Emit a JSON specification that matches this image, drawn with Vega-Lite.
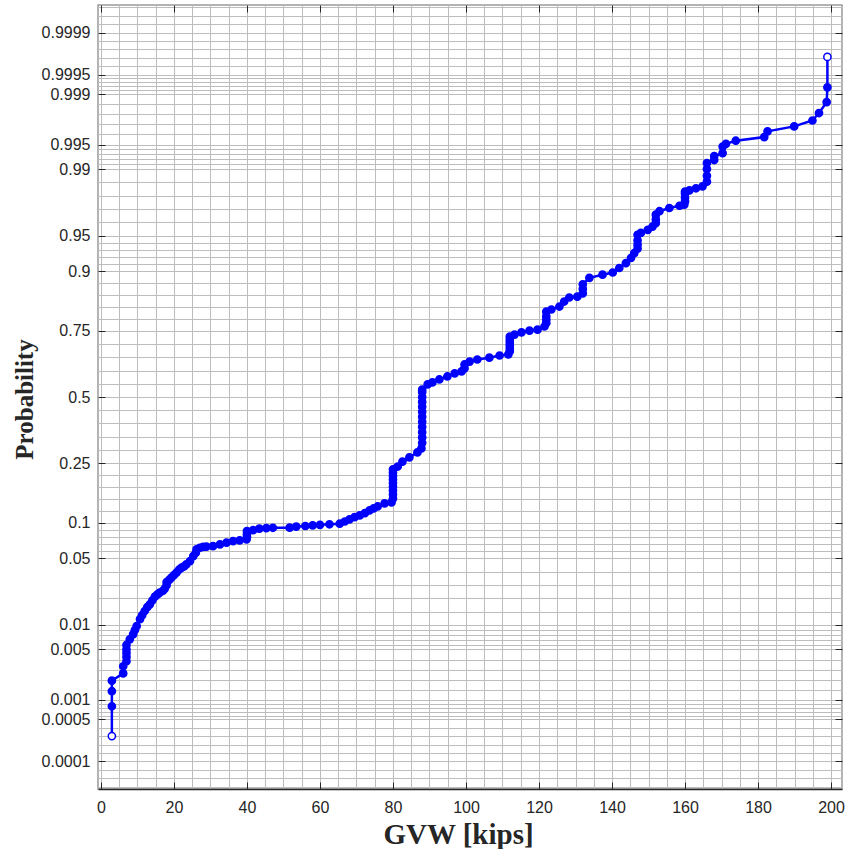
{
  "$schema": "https://vega.github.io/schema/vega-lite/v6.json",
  "width": 744,
  "height": 784,
  "autosize": {"type": "none"},
  "padding": {"left": 98, "top": 5, "right": 4, "bottom": 60},
  "background": "white",
  "config": {
    "view": {"stroke": "#9a9a9a", "strokeWidth": 1.5},
    "axis": {"labelFont": "Liberation Sans", "labelFontSize": 16, "labelColor": "#262626", "titleFont": "Liberation Serif", "titleFontSize": 25, "titleFontWeight": "bold", "titleColor": "#262626", "tickColor": "#262626", "tickWidth": 1}
  },
  "data": {"values": [
    {"w": 3, "p": 0.00027}, {"w": 3, "p": 0.0008}, {"w": 3, "p": 0.00134}, {"w": 3, "p": 0.0019},
    {"w": 6.1, "p": 0.0024}, {"w": 6.1, "p": 0.003}, {"w": 7, "p": 0.0035}, {"w": 7, "p": 0.004}, {"w": 7, "p": 0.0045}, {"w": 7, "p": 0.005}, {"w": 7, "p": 0.0057},
    {"w": 7.9, "p": 0.0067}, {"w": 8.8, "p": 0.0077}, {"w": 9.3, "p": 0.0087}, {"w": 9.8, "p": 0.0097}, {"w": 10.7, "p": 0.0117}, {"w": 11.3, "p": 0.013},
    {"w": 12, "p": 0.0145}, {"w": 12.7, "p": 0.016}, {"w": 13.4, "p": 0.0172}, {"w": 14.1, "p": 0.019}, {"w": 14.8, "p": 0.0208}, {"w": 15.5, "p": 0.022},
    {"w": 16.1, "p": 0.023}, {"w": 17, "p": 0.024}, {"w": 17.5, "p": 0.0253}, {"w": 18, "p": 0.0275}, {"w": 18, "p": 0.0295}, {"w": 18.7, "p": 0.031},
    {"w": 19.3, "p": 0.0327}, {"w": 20, "p": 0.0345}, {"w": 20.7, "p": 0.0366}, {"w": 21.4, "p": 0.039}, {"w": 22.1, "p": 0.0408}, {"w": 22.8, "p": 0.042},
    {"w": 23.4, "p": 0.0438}, {"w": 24.4, "p": 0.047}, {"w": 25.3, "p": 0.0523}, {"w": 26, "p": 0.056}, {"w": 26.2, "p": 0.06}, {"w": 27.1, "p": 0.062},
    {"w": 28, "p": 0.063}, {"w": 28.9, "p": 0.0634}, {"w": 30.7, "p": 0.064}, {"w": 32.6, "p": 0.0663}, {"w": 34.4, "p": 0.0686}, {"w": 36.2, "p": 0.0708},
    {"w": 38, "p": 0.0718}, {"w": 39.9, "p": 0.0732}, {"w": 40, "p": 0.077}, {"w": 40, "p": 0.081}, {"w": 40, "p": 0.0856}, {"w": 41.7, "p": 0.0872},
    {"w": 43.4, "p": 0.0895}, {"w": 45.3, "p": 0.0905}, {"w": 47.1, "p": 0.091}, {"w": 51.7, "p": 0.0912}, {"w": 53.5, "p": 0.093}, {"w": 56, "p": 0.094},
    {"w": 58, "p": 0.095}, {"w": 60, "p": 0.096}, {"w": 62.6, "p": 0.097}, {"w": 65.4, "p": 0.098}, {"w": 66.8, "p": 0.102}, {"w": 68.1, "p": 0.106},
    {"w": 69.5, "p": 0.11}, {"w": 70.9, "p": 0.1135}, {"w": 72.3, "p": 0.118}, {"w": 73.6, "p": 0.1237}, {"w": 74.7, "p": 0.128}, {"w": 75.8, "p": 0.132},
    {"w": 77.7, "p": 0.1388}, {"w": 79.6, "p": 0.141},
    {"w": 80, "p": 0.15}, {"w": 80, "p": 0.16}, {"w": 80, "p": 0.17}, {"w": 80, "p": 0.18}, {"w": 80, "p": 0.19}, {"w": 80, "p": 0.2}, {"w": 80, "p": 0.21}, {"w": 80, "p": 0.22}, {"w": 80, "p": 0.23},
    {"w": 81.3, "p": 0.239}, {"w": 82.6, "p": 0.255}, {"w": 84.5, "p": 0.269}, {"w": 86.7, "p": 0.286}, {"w": 87.8, "p": 0.3},
    {"w": 88, "p": 0.32}, {"w": 88, "p": 0.34}, {"w": 88, "p": 0.36}, {"w": 88, "p": 0.38}, {"w": 88, "p": 0.4}, {"w": 88, "p": 0.42}, {"w": 88, "p": 0.44},
    {"w": 88, "p": 0.46}, {"w": 88, "p": 0.48}, {"w": 88, "p": 0.5}, {"w": 88, "p": 0.52}, {"w": 88, "p": 0.53},
    {"w": 89.5, "p": 0.551}, {"w": 90.8, "p": 0.559}, {"w": 92.7, "p": 0.571}, {"w": 94.9, "p": 0.583}, {"w": 96.9, "p": 0.595}, {"w": 98.8, "p": 0.603},
    {"w": 99.6, "p": 0.615}, {"w": 99.6, "p": 0.63}, {"w": 101, "p": 0.641}, {"w": 103.1, "p": 0.649}, {"w": 106.4, "p": 0.656}, {"w": 109.2, "p": 0.664},
    {"w": 111.6, "p": 0.668}, {"w": 112, "p": 0.68}, {"w": 112, "p": 0.69}, {"w": 112, "p": 0.7}, {"w": 112, "p": 0.71}, {"w": 112, "p": 0.72}, {"w": 112, "p": 0.731},
    {"w": 113.3, "p": 0.738}, {"w": 115.2, "p": 0.745}, {"w": 117.4, "p": 0.751}, {"w": 119.6, "p": 0.754}, {"w": 121.5, "p": 0.764},
    {"w": 122, "p": 0.775}, {"w": 122, "p": 0.785}, {"w": 122, "p": 0.795}, {"w": 122, "p": 0.808}, {"w": 123.4, "p": 0.814}, {"w": 125.6, "p": 0.822},
    {"w": 126.9, "p": 0.835}, {"w": 128.3, "p": 0.845}, {"w": 130.5, "p": 0.847}, {"w": 132, "p": 0.855}, {"w": 132, "p": 0.865}, {"w": 132, "p": 0.875},
    {"w": 133.8, "p": 0.888}, {"w": 137.4, "p": 0.894}, {"w": 140.2, "p": 0.898}, {"w": 142, "p": 0.906}, {"w": 143.8, "p": 0.914}, {"w": 145.2, "p": 0.922},
    {"w": 146.1, "p": 0.929}, {"w": 147, "p": 0.935}, {"w": 147, "p": 0.94}, {"w": 147, "p": 0.945}, {"w": 147, "p": 0.951}, {"w": 147.9, "p": 0.953},
    {"w": 149.8, "p": 0.956}, {"w": 151.1, "p": 0.959}, {"w": 152, "p": 0.962}, {"w": 152, "p": 0.965}, {"w": 152, "p": 0.9686}, {"w": 153, "p": 0.971},
    {"w": 155.7, "p": 0.9731}, {"w": 158.5, "p": 0.9745}, {"w": 159.8, "p": 0.9751}, {"w": 160, "p": 0.977}, {"w": 160, "p": 0.979}, {"w": 160, "p": 0.981},
    {"w": 160, "p": 0.982}, {"w": 161.2, "p": 0.9825}, {"w": 163, "p": 0.9834}, {"w": 164.8, "p": 0.9842}, {"w": 166, "p": 0.986}, {"w": 166, "p": 0.988},
    {"w": 166, "p": 0.99}, {"w": 166, "p": 0.9915}, {"w": 168, "p": 0.9922}, {"w": 168, "p": 0.993}, {"w": 170.3, "p": 0.9936}, {"w": 170.3, "p": 0.9947},
    {"w": 171.2, "p": 0.9951}, {"w": 173.9, "p": 0.99554}, {"w": 181.7, "p": 0.996}, {"w": 182.6, "p": 0.99664}, {"w": 189.9, "p": 0.99712},
    {"w": 194.9, "p": 0.99761}, {"w": 196.7, "p": 0.99812}, {"w": 198.8, "p": 0.99869}, {"w": 199, "p": 0.99921}, {"w": 199, "p": 0.99974}
  ]},
  "transform": [{"calculate": "quantileNormal(datum.p)", "as": "z"}],
  "layer": [
    {
      "mark": {"type": "line", "color": "#0000ff", "strokeWidth": 2.5},
      "encoding": {
        "x": {"field": "w", "type": "quantitative", "scale": {"domain": [-0.8, 203], "nice": false, "zero": false}, "title": "GVW [kips]",
          "axis": {"orient": "bottom", "values": [0,5,10,15,20,25,30,35,40,45,50,55,60,65,70,75,80,85,90,95,100,105,110,115,120,125,130,135,140,145,150,155,160,165,170,175,180,185,190,195,200],
            "grid": true, "gridColor": "#bdbdbd", "gridWidth": 1, "domain": true, "domainColor": "#262626", "domainWidth": 1.5,
            "tickSize": -7, "tickOpacity": {"condition": {"test": "datum.value % 20 === 0", "value": 1}, "value": 0},
            "labelExpr": "datum.value % 20 === 0 ? datum.label : ''", "labelPadding": 17, "labelOverlap": false, "labelFlush": false, "labelBound": false,
            "titleX": 360, "titleY": 54, "titleBaseline": "alphabetic", "titleAlign": "center", "titleFontSize": 29}},
        "y": {"field": "z", "type": "quantitative", "scale": {"domain": [-4, 4], "nice": false, "zero": false}, "title": "Probability",
          "axis": {"orient": "left",
            "values": [-3.9761,-3.8904,-3.8047,-3.719,-3.6333,-3.5476,-3.4619,-3.3762,-3.2905,-3.2504,-3.2104,-3.1703,-3.1303,-3.0902,-2.9873,-2.8844,-2.7816,-2.6787,-2.5758,-2.5259,-2.476,-2.4261,-2.3762,-2.3263,-2.19,-2.0537,-1.9174,-1.7812,-1.6449,-1.5722,-1.4996,-1.4269,-1.3543,-1.2816,-1.1602,-1.0387,-0.9173,-0.7959,-0.6745,-0.5396,-0.4047,-0.2698,-0.1349,0,0.1349,0.2698,0.4047,0.5396,0.6745,0.7959,0.9173,1.0387,1.1602,1.2816,1.3543,1.4269,1.4996,1.5722,1.6449,1.7812,1.9174,2.0537,2.19,2.3263,2.3762,2.4261,2.476,2.5259,2.5758,2.6787,2.7816,2.8844,2.9873,3.0902,3.1303,3.1703,3.2104,3.2504,3.2905,3.3762,3.4619,3.5476,3.6333,3.719,3.8047,3.8904,3.9761],
            "grid": true, "gridColor": "#bdbdbd", "gridWidth": 1, "domain": false,
            "tickSize": -7, "tickOpacity": {"condition": {"test": "indexof([-3.719,-3.2905,-3.0902,-2.5758,-2.3263,-1.6449,-1.2816,-0.6745,0,0.6745,1.2816,1.6449,2.3263,2.5758,3.0902,3.2905,3.719], datum.value) >= 0", "value": 1}, "value": 0},
            "labelExpr": "indexof([-3.719,-3.2905,-3.0902,-2.5758,-2.3263,-1.6449,-1.2816,-0.6745,0,0.6745,1.2816,1.6449,2.3263,2.5758,3.0902,3.2905,3.719], datum.value) >= 0 ? format(cumulativeNormal(datum.value), '.4~f') : ''",
            "labelPadding": 15, "labelOverlap": false, "labelBound": false, "labelFlush": false,
            "titleX": -66, "titleY": 394, "titleAngle": -90, "titleBaseline": "alphabetic", "titleAlign": "center"}},
        "order": {"field": "p", "type": "quantitative"}
      }
    },
    {
      "mark": {"type": "point", "shape": "circle", "filled": true, "size": 52, "stroke": "#0000ff", "strokeWidth": 1.5, "opacity": 1},
      "encoding": {
        "x": {"field": "w", "type": "quantitative", "scale": {"domain": [-0.8, 203], "nice": false, "zero": false}, "title": null,
          "axis": {"orient": "top", "values": [0,20,40,60,80,100,120,140,160,180,200], "grid": false, "labels": false, "domain": false, "tickSize": -7}},
        "y": {"field": "z", "type": "quantitative", "scale": {"domain": [-4, 4], "nice": false, "zero": false}, "title": null,
          "axis": {"orient": "right", "values": [-3.719,-3.2905,-3.0902,-2.5758,-2.3263,-1.6449,-1.2816,-0.6745,0,0.6745,1.2816,1.6449,2.3263,2.5758,3.0902,3.2905,3.719], "grid": false, "labels": false, "domain": false, "tickSize": -7}},
        "fill": {"condition": {"test": "datum.p < 0.0003 || datum.p > 0.9997", "value": "white"}, "value": "#0000ff"}
      }
    }
  ],
  "resolve": {"axis": {"x": "independent", "y": "independent"}}
}
